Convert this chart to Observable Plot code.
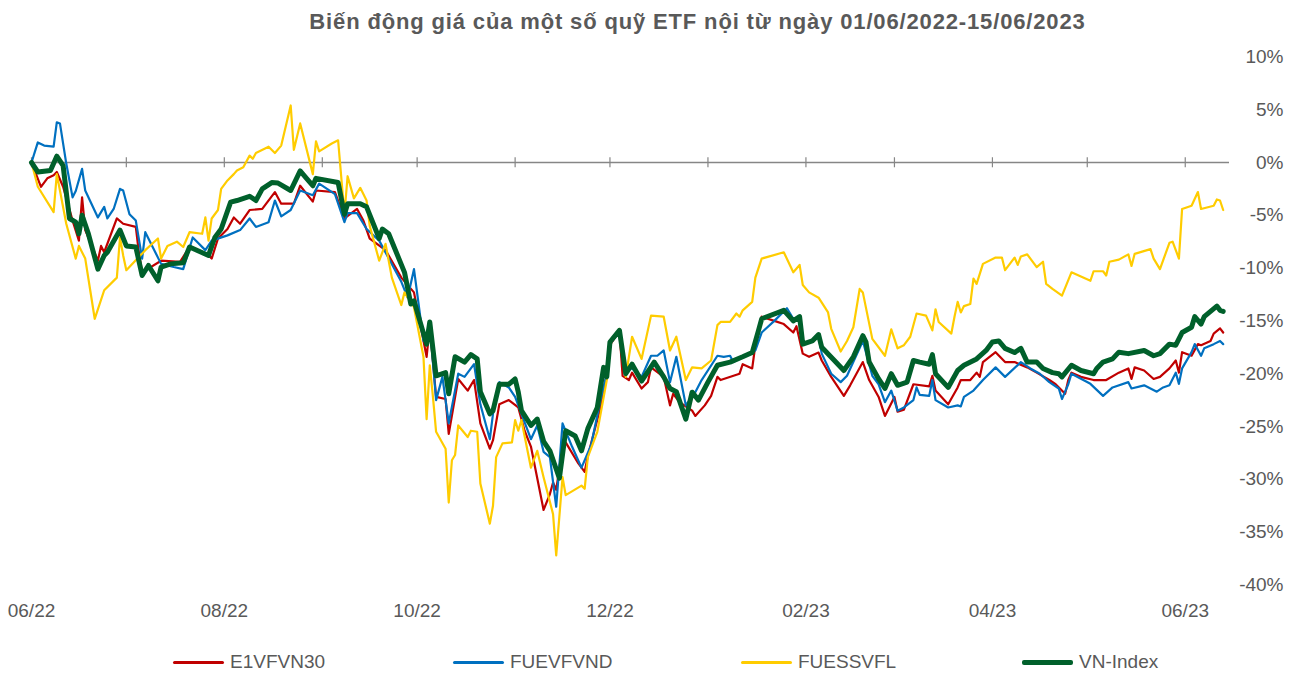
<!DOCTYPE html>
<html>
<head>
<meta charset="utf-8">
<script src="https://cdn.jsdelivr.net/npm/d3@7"></script>
<script src="https://cdn.jsdelivr.net/npm/@observablehq/plot@0.6"></script>
<style>
  html, body { margin: 0; padding: 0; background: #fff; }
  body { width: 1299px; height: 673px; position: relative; overflow: hidden; font-family: "Liberation Sans", Arial, sans-serif; color: #595959; }
  #title { position: absolute; left: 96px; width: 1203px; top: 11px; line-height: 22px; text-align: center; font-weight: bold; font-size: 22px; letter-spacing: 0.85px; color: #595959; white-space: nowrap; }
  #chart { position: absolute; left: 0; top: 45px; }
  #legend { position: absolute; top: 651px; left: 0; width: 1299px; height: 22px; }
  .item { position: absolute; top: 0; display: flex; align-items: center; font-size: 19px; color: #595959; height: 22px; }
  .swatch { width: 51px; margin-right: 6px; }
</style>
</head>
<body>
<div id="title">Biến động giá của một số quỹ ETF nội từ ngày 01/06/2022-15/06/2023</div>
<div id="chart"></div>
<div id="legend"></div>
<script>
// ---- Data (days after 01/06/2022, % change) ----
const startDate = "2022-06-01";
const endDate = "2023-06-15";

const seriesNames = ["E1VFVN30", "FUEVFVND", "FUESSVFL", "VN-Index"];
const seriesColors = ["#C00000", "#0070C0", "#FFCC00", "#00602B"];
const seriesWidths = [2.2, 2.2, 2.2, 5];

const e1Days = [0,3,5,7,8,10,13,15,16,17,21,22,23,27,29,33,34,35,41,47,50,56,57,59,62,64,66,69,73,77,79,83,85,89,90,96,99,103,105,107,112,117,121,125,126,128,131,132,135,138,140,142,145,146,148,151,154,156,158,162,164,165,166,168,169,173,175,176,180,182,183,186,187,189,190,193,195,196,200,202,203,205,209,210,213,215,217,218,224,225,228,229,231,235,238,241,242,244,246,249,250,253,257,259,263,265,268,270,273,274,276,279,284,285,286,290,293,294,297,299,300,301,305,308,311,315,318,322,324,327,328,329,332,336,340,344,347,348,349,352,355,357,360,362,363,364,367,369,370,373,374,376,377];
const e1Vals = [0,-2.3,-1.5,-1.2,-0.9,-2.3,-5.5,-7.4,-3.3,-6.4,-9.3,-7.9,-8.5,-5.3,-5.8,-6.1,-8.6,-10.4,-9.3,-9.4,-8.0,-8.8,-9.1,-7.2,-6.3,-5.2,-5.8,-4.5,-4.4,-2.8,-3.9,-3.9,-2.2,-3.7,-2.65,-2.8,-5.3,-4.4,-5.5,-7.2,-8.3,-10.9,-12.3,-18.4,-15.5,-22.2,-22.4,-25.7,-20.5,-21.6,-20.6,-24.7,-27.1,-26.3,-22.9,-22.5,-23.2,-25.4,-26.9,-32.9,-31.4,-30.3,-31.0,-26.9,-26.5,-28.5,-29.3,-27.8,-23.2,-20.0,-17.3,-15.9,-20.2,-20.6,-19.9,-21.4,-20.8,-19.4,-20.3,-23.0,-21.9,-22.7,-23.5,-24.0,-23.0,-22.1,-20.3,-20.6,-20.0,-19.1,-19.5,-17.3,-14.6,-15.0,-15.3,-16.1,-15.5,-18.1,-18.4,-18.0,-18.75,-20.3,-22.1,-21.1,-18.9,-20.6,-22.2,-24.0,-22.2,-23.6,-23.4,-21.0,-21.2,-20.2,-21.6,-22.9,-21.3,-20.6,-20.6,-19.9,-20.3,-18.9,-17.96,-18.9,-18.9,-19.4,-19.9,-20.6,-21.0,-21.9,-20.6,-19.9,-20.3,-20.6,-20.6,-19.9,-19.5,-20.5,-19.4,-19.7,-20.5,-20.3,-19.5,-18.75,-19.9,-17.96,-18.3,-17.2,-17.3,-16.9,-16.2,-15.7,-16.1];

const fuevDays = [0,2,4,7,8,9,11,13,14,16,17,21,23,24,26,28,29,31,33,35,36,41,45,48,51,55,57,62,66,69,71,75,77,79,82,85,89,91,96,99,100,103,106,110,117,119,121,124,126,128,130,132,135,137,140,142,145,146,148,151,153,158,160,162,164,166,168,171,174,177,180,182,183,186,188,190,193,196,198,200,202,204,207,210,212,217,219,221,222,229,231,235,239,241,243,244,247,249,250,253,256,258,263,266,268,270,272,274,276,279,280,281,284,285,286,290,293,294,295,298,301,305,308,313,316,319,322,325,326,328,329,335,339,342,347,348,352,356,358,360,362,363,364,367,368,370,371,374,376,377];
const fuevVals = [0,1.9,1.6,1.5,3.8,3.7,-0.1,-3.3,-2.7,-0.6,-2.65,-5.2,-4.2,-5.3,-4.4,-2.5,-2.65,-4.9,-5.5,-9.1,-6.6,-9.6,-9.9,-10.1,-7.1,-8.3,-7.4,-6.9,-6.4,-5.3,-6.1,-5.65,-3.6,-5.1,-4.5,-2.65,-3.1,-2.0,-3.0,-5.65,-4.8,-4.8,-6.3,-7.4,-11.3,-12.8,-10.1,-16.9,-15.3,-22.5,-20.3,-24.7,-20.0,-20.3,-19.1,-22.9,-26.2,-23.8,-20.8,-21.3,-22.2,-26.2,-24.9,-27.4,-27.9,-32.6,-24.7,-26.9,-28.9,-26.8,-22.5,-20.0,-17.2,-16.0,-19.7,-19.5,-20.3,-18.3,-18.3,-17.8,-20.8,-18.4,-23.0,-21.75,-20.6,-18.3,-18.4,-18.3,-18.9,-17.8,-16.1,-15.0,-13.8,-14.8,-14.6,-17.0,-17.0,-16.5,-18.1,-20.0,-20.8,-20.2,-16.9,-20.2,-21.0,-22.7,-21.6,-23.5,-23.2,-22.5,-21.3,-22.0,-22.1,-20.6,-22.5,-23.2,-23.0,-23.1,-22.2,-21.6,-20.6,-19.4,-20.3,-18.9,-19.5,-20.0,-20.8,-21.4,-22.4,-21.0,-20.0,-20.96,-22.1,-21.3,-20.8,-21.4,-21.1,-21.7,-21.3,-21.1,-19.9,-20.96,-19.5,-17.96,-17.2,-18.3,-17.6,-17.2,-16.9,-17.2];

const fuessDays = [0,2,7,8,9,11,14,15,17,20,21,23,27,28,29,30,36,40,41,43,46,48,50,54,55,56,57,59,60,62,64,65,67,69,70,71,75,77,79,82,83,85,89,90,91,95,97,99,100,102,104,106,107,110,112,114,117,118,121,124,125,126,127,128,131,132,133,134,135,138,139,141,142,145,146,147,149,152,153,154,155,158,160,162,165,166,168,169,174,175,176,179,182,183,186,188,190,193,196,200,202,204,207,209,212,215,217,218,221,223,224,225,228,229,231,238,241,243,244,246,249,252,253,256,258,260,262,263,266,270,272,274,276,278,280,283,285,286,287,291,292,293,294,295,297,298,299,301,305,307,308,311,312,313,315,318,320,321,323,326,329,332,335,336,339,340,341,344,347,348,349,354,355,357,360,361,363,364,367,369,370,374,375,376,377];
const fuessVals = [0,-2.3,-4.7,-1.1,-2.65,-5.8,-9.1,-7.9,-9.1,-14.8,-13.9,-12.1,-10.9,-7.1,-8.8,-10.2,-8.3,-7.2,-9.1,-7.9,-7.5,-8.0,-6.6,-6.75,-5.2,-7.4,-5.3,-4.5,-2.5,-1.7,-1.1,-0.75,-0.45,0.65,0.35,0.9,1.5,0.9,1.6,5.4,1.2,3.7,-1.1,2.0,1.05,1.8,2.1,-4.9,-1.3,-3.4,-2.4,-3.6,-6.0,-9.3,-7.7,-10.9,-13.5,-12.3,-13.7,-18.4,-24.3,-19.2,-22.2,-25.5,-27.1,-32.2,-28.2,-27.7,-24.9,-26.0,-25.4,-25.5,-30.4,-34.2,-32.5,-27.9,-26.6,-26.5,-24.4,-25.4,-24.4,-28.9,-27.3,-29.8,-33.3,-37.2,-29.8,-31.5,-30.6,-30.9,-27.9,-25.5,-20.6,-17.2,-15.75,-20.3,-16.5,-18.6,-14.5,-14.6,-17.8,-16.5,-20.6,-19.4,-19.5,-18.75,-15.4,-15.1,-15.1,-14.3,-14.6,-14.0,-13.2,-10.9,-9.1,-8.5,-10.4,-9.7,-11.6,-12.3,-12.8,-14.2,-15.75,-17.9,-16.9,-15.6,-11.97,-12.3,-16.7,-18.3,-15.8,-17.6,-17.3,-16.5,-14.3,-14.5,-15.9,-13.9,-15.1,-16.2,-14.6,-13.2,-14.2,-13.6,-13.4,-11.0,-11.5,-9.6,-9.0,-9.0,-10.2,-9.0,-9.7,-8.9,-8.7,-9.9,-9.4,-11.5,-11.96,-12.6,-10.4,-10.8,-11.2,-10.3,-10.3,-10.7,-9.4,-9.2,-8.7,-9.8,-8.65,-8.2,-9.1,-10.1,-7.6,-7.5,-9.1,-4.4,-4.1,-2.8,-4.4,-4.1,-3.5,-3.6,-4.5];

const vnDays = [0,2,6,8,10,12,14,15,16,18,21,23,24,28,30,33,35,37,40,41,44,48,50,56,58,60,63,65,69,71,73,76,78,82,85,87,89,90,97,99,100,104,106,110,111,113,118,120,121,125,126,128,131,132,134,137,139,141,142,145,146,148,151,153,154,155,158,160,162,164,167,169,172,174,176,179,180,181,182,183,186,188,190,193,197,200,202,204,207,209,211,214,217,221,225,228,230,231,238,241,243,244,247,249,250,254,257,260,263,264,265,268,270,272,274,277,279,281,284,285,286,290,293,295,299,302,304,306,308,311,313,315,318,320,323,325,326,329,332,336,337,339,342,344,347,352,355,357,360,362,364,367,368,370,371,375,376,377];
const vnVals = [0,-0.9,-0.75,0.6,-0.3,-5.3,-5.65,-6.75,-5.0,-6.75,-10.1,-8.8,-8.5,-6.4,-7.9,-8.0,-10.7,-9.75,-11.2,-9.9,-9.6,-9.5,-8.0,-8.8,-7.1,-6.3,-3.75,-3.6,-3.2,-3.6,-2.5,-1.9,-1.95,-2.65,-0.8,-1.5,-2.2,-1.5,-1.9,-4.9,-3.9,-3.9,-4.2,-7.2,-6.3,-6.75,-10.4,-13.4,-13.1,-17.2,-15.1,-20.2,-19.9,-21.9,-18.4,-18.9,-18.2,-18.6,-21.7,-23.8,-23.5,-21.0,-21.0,-20.5,-21.75,-23.5,-24.9,-24.3,-26.4,-27.3,-29.9,-25.4,-25.9,-27.3,-25.2,-23.2,-21.3,-19.4,-20.3,-17.0,-15.9,-20.0,-19.1,-20.7,-18.9,-20.3,-21.4,-21.7,-24.3,-21.75,-22.5,-20.8,-19.2,-18.9,-18.4,-18.0,-15.9,-14.8,-14.0,-15.0,-14.6,-17.2,-16.9,-16.3,-17.5,-18.75,-19.7,-18.4,-16.4,-17.0,-18.9,-20.5,-21.4,-20.0,-21.1,-20.8,-18.75,-18.9,-19.1,-18.2,-20.0,-21.3,-19.7,-19.2,-18.6,-17.8,-17.0,-16.9,-17.6,-18.0,-17.6,-18.9,-18.9,-19.5,-19.9,-20.0,-20.3,-19.2,-19.7,-20.0,-19.5,-18.9,-18.6,-17.96,-18.1,-17.8,-18.3,-18.1,-17.2,-17.3,-16.1,-15.6,-14.6,-15.3,-14.6,-13.6,-14.0,-14.1];

const yTicks = [10, 5, 0, -5, -10, -15, -20, -25, -30, -35, -40];
const xLabelMonths = ["2022-06-01","2022-08-01","2022-10-01","2022-12-01","2023-02-01","2023-04-01","2023-06-01"];
const xTickMonths = ["2022-06-01","2022-07-01","2022-08-01","2022-09-01","2022-10-01","2022-11-01","2022-12-01","2023-01-01","2023-02-01","2023-03-01","2023-04-01","2023-05-01","2023-06-01"];

// ---- Build ----
const start = new Date(startDate);
const dayArrays = [e1Days, fuevDays, fuessDays, vnDays];
const valArrays = [e1Vals, fuevVals, fuessVals, vnVals];
const rows = [];
seriesNames.forEach((name, i) => {
  dayArrays[i].forEach((d, j) => rows.push({series: name, date: d3.utcDay.offset(start, d), value: valArrays[i][j]}));
});

const lineMarks = seriesNames.map((name, i) =>
  Plot.line(rows.filter(r => r.series === name), {
    x: "date", y: "value", stroke: seriesColors[i], strokeWidth: seriesWidths[i],
    strokeLinejoin: "round", strokeLinecap: "round"
  })
);

const chart = Plot.plot({
  width: 1299,
  height: 590,
  marginLeft: 31,
  marginRight: 70,
  marginTop: 11.4,
  marginBottom: 50.6,
  style: {color: "#595959", background: "white", fontFamily: "'Liberation Sans', Arial, sans-serif"},
  x: {type: "utc", domain: [new Date(startDate), new Date(endDate)]},
  y: {domain: [-40, 10]},
  marks: [
    Plot.ruleY([0], {stroke: "#868686", strokeWidth: 1.5}),
    Plot.ruleX(xTickMonths.map(d => new Date(d)), {y1: -0.5, y2: 0.45, stroke: "#868686", strokeWidth: 1.2}),
    ...lineMarks,
    Plot.axisY({anchor: "right", ticks: yTicks, tickSize: 0, tickPadding: 54, textAnchor: "end",
      tickFormat: d => d + "%", fontSize: 19, label: null}),
    Plot.axisX({ticks: xLabelMonths.map(d => new Date(d)), tickSize: 0, tickPadding: 19,
      tickFormat: d3.utcFormat("%m/%y"), fontSize: 19, label: null})
  ]
});
document.getElementById("chart").appendChild(chart);

// ---- Legend ----
const legendLeft = [173, 453, 741, 1022];
const legend = document.getElementById("legend");
seriesNames.forEach((name, i) => {
  const item = document.createElement("div");
  item.className = "item";
  item.style.left = legendLeft[i] + "px";
  const sw = document.createElement("div");
  sw.className = "swatch";
  sw.style.height = (i === 3 ? 5 : 3) + "px";
  sw.style.background = seriesColors[i];
  sw.style.borderRadius = "2px";
  item.appendChild(sw);
  const t = document.createElement("span");
  t.textContent = name;
  item.appendChild(t);
  legend.appendChild(item);
});
</script>
</body>
</html>
